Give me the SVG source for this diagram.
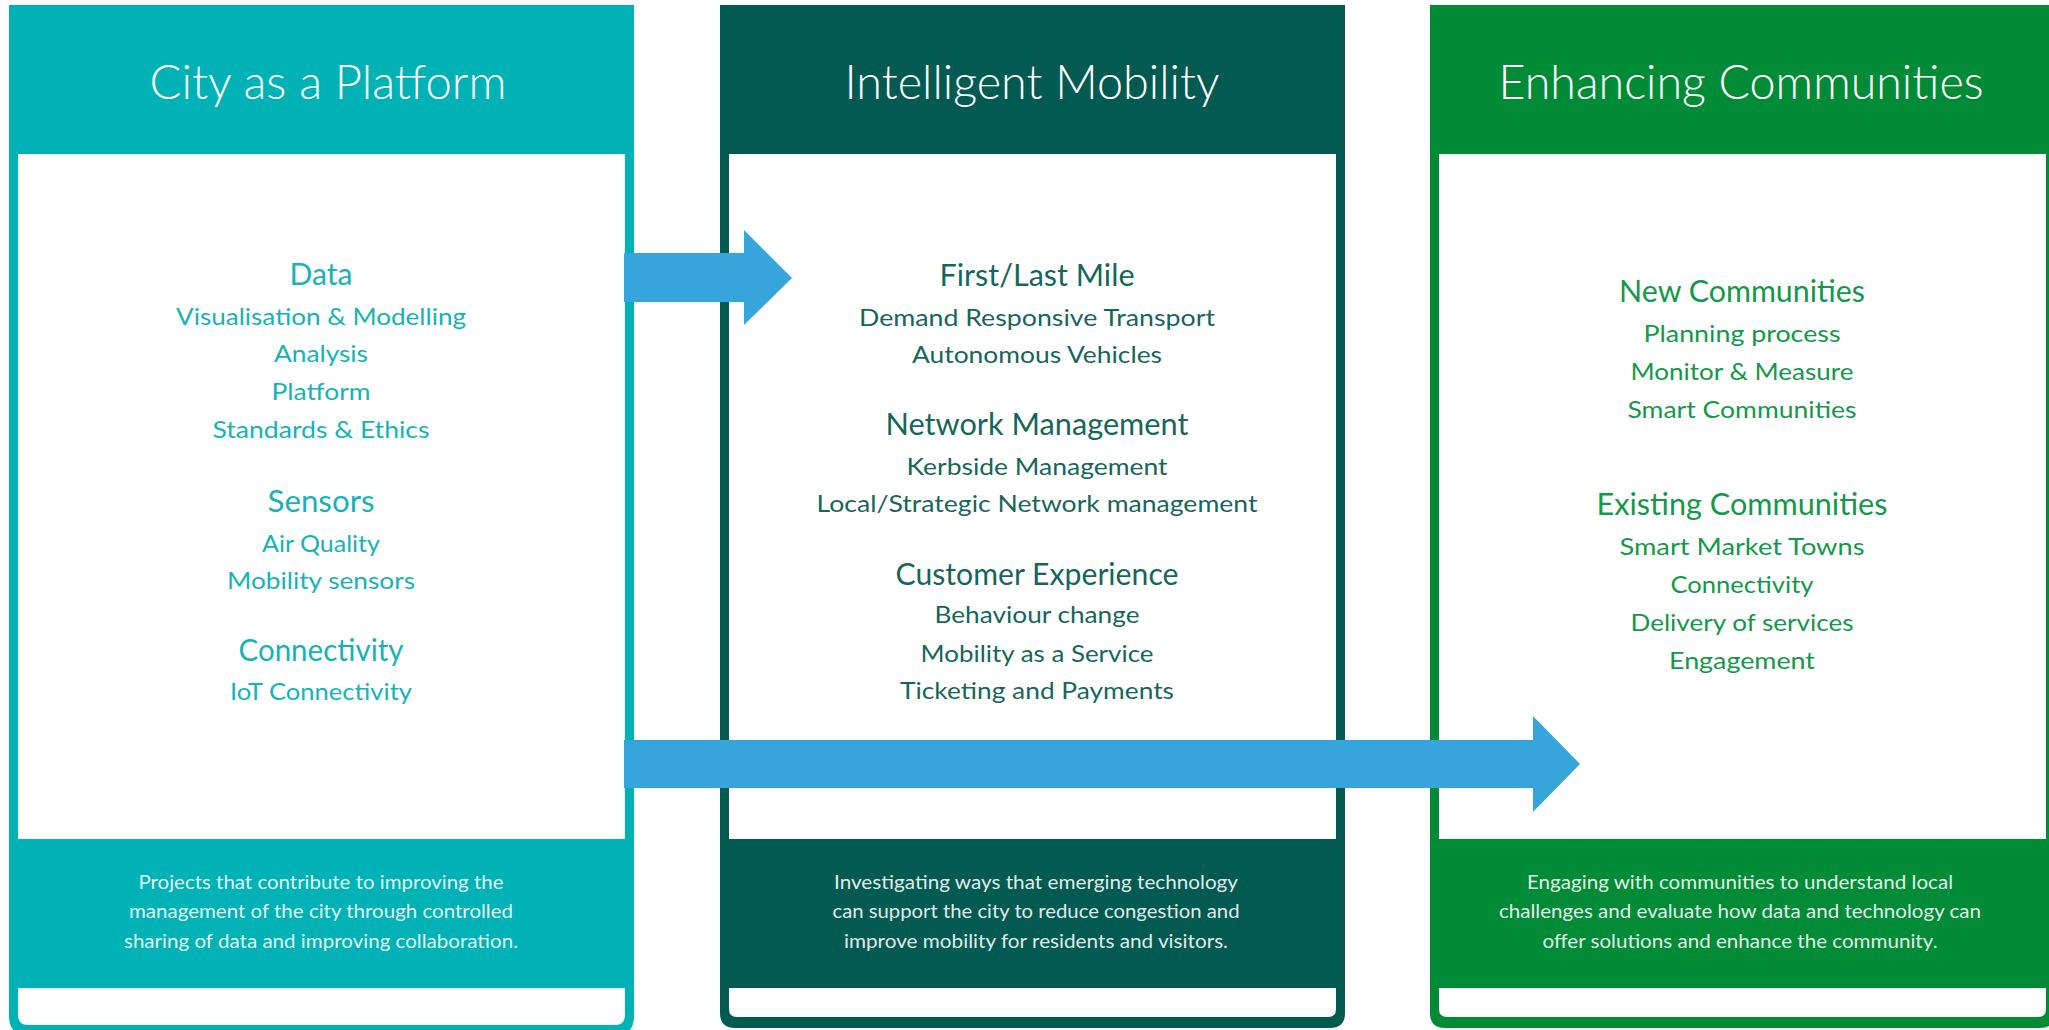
<svg xmlns="http://www.w3.org/2000/svg" width="2049" height="1030" viewBox="0 0 2049 1030">
<style>
text{font-family:Lato,"Open Sans","Liberation Sans",sans-serif;text-anchor:middle}
.title{font-size:47px;fill:#ffffff;font-weight:300}
.h{font-size:30px}
.i{font-size:23.5px}
.f{font-size:19.5px;fill:#ffffff;fill-opacity:0.9}
.c1{fill:#16b3b6}
.c2{fill:#17665b}
.c3{fill:#14984a}
.inner{fill:#ffffff}
.arrow{fill:#35a5db}
</style>
<rect width="2049" height="1030" fill="#ffffff"/>
<g id="col-city-platform">
<path d="M9 5H634V1016Q634 1036 614 1036H29Q9 1036 9 1016Z" fill="#00b2b5"/>
<rect class="inner" x="18" y="154" width="607" height="685"/>
<path class="inner" d="M18 988H625V1015Q625 1025 615 1025H28Q18 1025 18 1015Z"/>
<text class="title" x="328" y="99" textLength="357" lengthAdjust="spacingAndGlyphs">City as a Platform</text>
<text class="h c1" x="321" y="285" textLength="63" lengthAdjust="spacingAndGlyphs">Data</text>
<text class="i c1" x="321" y="325" textLength="290" lengthAdjust="spacingAndGlyphs">Visualisation &amp; Modelling</text>
<text class="i c1" x="321" y="362" textLength="94" lengthAdjust="spacingAndGlyphs">Analysis</text>
<text class="i c1" x="321" y="400" textLength="99" lengthAdjust="spacingAndGlyphs">Platform</text>
<text class="i c1" x="321" y="438" textLength="217" lengthAdjust="spacingAndGlyphs">Standards &amp; Ethics</text>
<text class="h c1" x="321" y="512" textLength="107" lengthAdjust="spacingAndGlyphs">Sensors</text>
<text class="i c1" x="321" y="552" textLength="118" lengthAdjust="spacingAndGlyphs">Air Quality</text>
<text class="i c1" x="321" y="589" textLength="188" lengthAdjust="spacingAndGlyphs">Mobility sensors</text>
<text class="h c1" x="321" y="661" textLength="165" lengthAdjust="spacingAndGlyphs">Connectivity</text>
<text class="i c1" x="321" y="700" textLength="182" lengthAdjust="spacingAndGlyphs">IoT Connectivity</text>
<text class="f" x="321" y="889" textLength="365" lengthAdjust="spacingAndGlyphs">Projects that contribute to improving the</text>
<text class="f" x="321" y="918" textLength="384" lengthAdjust="spacingAndGlyphs">management of the city through controlled</text>
<text class="f" x="321" y="948" textLength="394" lengthAdjust="spacingAndGlyphs">sharing of data and improving collaboration.</text>
</g>
<g id="col-intelligent-mobility">
<path d="M720 5H1345V1013Q1345 1028 1330 1028H735Q720 1028 720 1013Z" fill="#035a50"/>
<rect class="inner" x="729" y="154" width="607" height="685"/>
<path class="inner" d="M729 988H1336V1009Q1336 1017 1328 1017H737Q729 1017 729 1009Z"/>
<text class="title" x="1032" y="99" textLength="375" lengthAdjust="spacingAndGlyphs">Intelligent Mobility</text>
<text class="h c2" x="1037" y="286" textLength="195" lengthAdjust="spacingAndGlyphs">First/Last Mile</text>
<text class="i c2" x="1037" y="326" textLength="356" lengthAdjust="spacingAndGlyphs">Demand Responsive Transport</text>
<text class="i c2" x="1037" y="363" textLength="250" lengthAdjust="spacingAndGlyphs">Autonomous Vehicles</text>
<text class="h c2" x="1037" y="435" textLength="303" lengthAdjust="spacingAndGlyphs">Network Management</text>
<text class="i c2" x="1037" y="475" textLength="261" lengthAdjust="spacingAndGlyphs">Kerbside Management</text>
<text class="i c2" x="1037" y="512" textLength="441" lengthAdjust="spacingAndGlyphs">Local/Strategic Network management</text>
<text class="h c2" x="1037" y="585" textLength="283" lengthAdjust="spacingAndGlyphs">Customer Experience</text>
<text class="i c2" x="1037" y="623" textLength="205" lengthAdjust="spacingAndGlyphs">Behaviour change</text>
<text class="i c2" x="1037" y="662" textLength="233" lengthAdjust="spacingAndGlyphs">Mobility as a Service</text>
<text class="i c2" x="1037" y="699" textLength="274" lengthAdjust="spacingAndGlyphs">Ticketing and Payments</text>
<text class="f" x="1036" y="889" textLength="404" lengthAdjust="spacingAndGlyphs">Investigating ways that emerging technology</text>
<text class="f" x="1036" y="918" textLength="407" lengthAdjust="spacingAndGlyphs">can support the city to reduce congestion and</text>
<text class="f" x="1036" y="948" textLength="384" lengthAdjust="spacingAndGlyphs">improve mobility for residents and visitors.</text>
</g>
<g id="col-enhancing-communities">
<path d="M1430 5H2055V1013Q2055 1028 2040 1028H1445Q1430 1028 1430 1013Z" fill="#028b37"/>
<rect class="inner" x="1439" y="154" width="607" height="685"/>
<path class="inner" d="M1439 988H2046V1009Q2046 1017 2038 1017H1447Q1439 1017 1439 1009Z"/>
<text class="title" x="1741" y="99" textLength="485" lengthAdjust="spacingAndGlyphs">Enhancing Communities</text>
<text class="h c3" x="1742" y="302" textLength="246" lengthAdjust="spacingAndGlyphs">New Communities</text>
<text class="i c3" x="1742" y="342" textLength="197" lengthAdjust="spacingAndGlyphs">Planning process</text>
<text class="i c3" x="1742" y="380" textLength="223" lengthAdjust="spacingAndGlyphs">Monitor &amp; Measure</text>
<text class="i c3" x="1742" y="418" textLength="229" lengthAdjust="spacingAndGlyphs">Smart Communities</text>
<text class="h c3" x="1742" y="515" textLength="291" lengthAdjust="spacingAndGlyphs">Existing Communities</text>
<text class="i c3" x="1742" y="555" textLength="245" lengthAdjust="spacingAndGlyphs">Smart Market Towns</text>
<text class="i c3" x="1742" y="593" textLength="143" lengthAdjust="spacingAndGlyphs">Connectivity</text>
<text class="i c3" x="1742" y="631" textLength="223" lengthAdjust="spacingAndGlyphs">Delivery of services</text>
<text class="i c3" x="1742" y="669" textLength="146" lengthAdjust="spacingAndGlyphs">Engagement</text>
<text class="f" x="1740" y="889" textLength="426" lengthAdjust="spacingAndGlyphs">Engaging with communities to understand local</text>
<text class="f" x="1740" y="918" textLength="482" lengthAdjust="spacingAndGlyphs">challenges and evaluate how data and technology can</text>
<text class="f" x="1740" y="948" textLength="395" lengthAdjust="spacingAndGlyphs">offer solutions and enhance the community.</text>
</g>
<g id="connectors">
<polygon class="arrow" points="624,253 744,253 744,230 792,278 744,325 744,302 624,302"/>
<polygon class="arrow" points="624,740 1533,740 1533,716 1580,764 1533,812 1533,788 624,788"/>
</g>
</svg>
